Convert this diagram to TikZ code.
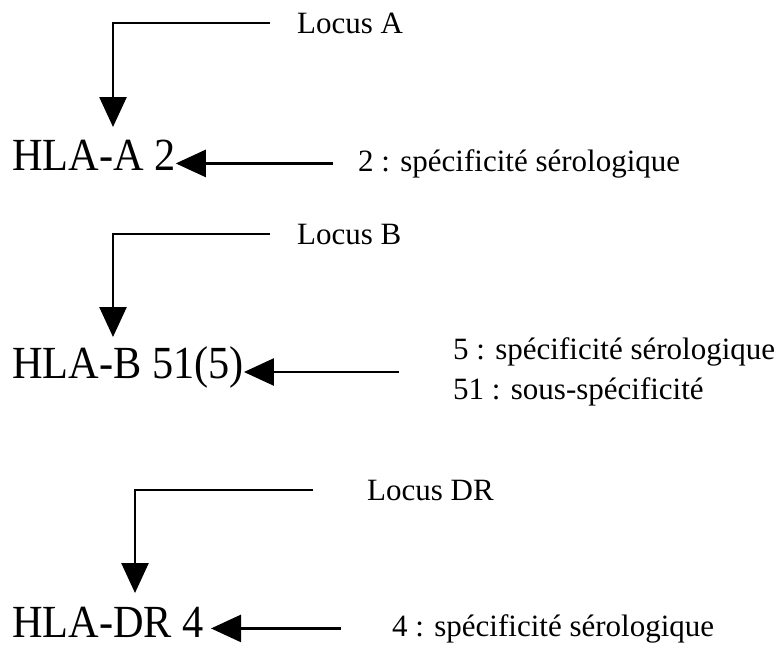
\documentclass[tikz,border=0pt]{standalone}
\usepackage{fontspec}
\setmainfont{Liberation Serif}
\newfontfamily\hlafont{Liberation Serif}[FakeStretch=0.92]
\usetikzlibrary{arrows.meta}
\tikzset{
  hla/.style={font=\hlafont\fontsize{46}{50}\selectfont, inner sep=0pt, anchor=base west},
  lbl/.style={font=\fontsize{31}{40}\selectfont, inner sep=0pt, anchor=base west},
  arr/.style={line width=2.6pt, -{Triangle[length=30pt,width=27pt]}}
}
\begin{document}
\begin{tikzpicture}[x=1pt,y=-1pt]
                \useasboundingbox (0,0) rectangle (784,649);
                \node[lbl] (locA) at (297,33) {Locus A};
                \node[hla] (hlaA) at (12,170) {HLA-A 2};
                \node[lbl] (specA) at (358,171) {2 : spécificité sérologique};
                \draw[arr] ([xshift=-27pt]locA.west) -| ([xshift=101pt,yshift=43pt]hlaA.base west);
                \draw[arr] ([xshift=-25pt]specA.west) -- (specA.west -| hlaA.east);
                \node[lbl] (locB) at (297,244) {Locus B};
                \node[hla] (hlaB) at (12,378) {HLA-B 51(5)};
                \node[lbl, align=left, anchor=west] (specB) at (453,372) {5 : spécificité sérologique\\51 : sous-spécificité};
                \draw[arr] ([xshift=-27pt]locB.west) -| ([xshift=101pt,yshift=41pt]hlaB.base west);
                \draw[arr] ([xshift=-54pt]specB.west) -- (specB.west -| hlaB.east);
                \node[lbl] (locDR) at (367,500) {Locus DR};
                \node[hla] (hlaDR) at (12,637) {HLA-DR 4};
                \node[lbl] (specDR) at (392,636) {4 : spécificité sérologique};
                \draw[arr] ([xshift=-54pt]locDR.west) -| ([xshift=123pt,yshift=44pt]hlaDR.base west);
                \draw[arr] ([xshift=-51pt]specDR.west) -- ([xshift=7pt]specDR.west -| hlaDR.east);
\end{tikzpicture}
\end{document}
